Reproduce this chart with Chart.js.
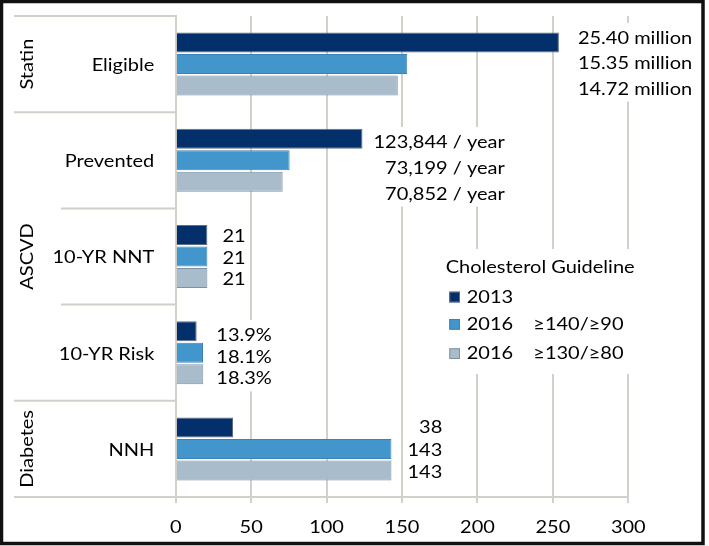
<!DOCTYPE html>
<html><head><meta charset="utf-8">
<script src="https://cdn.jsdelivr.net/npm/chart.js@4/dist/chart.umd.min.js"></script>
<style>html,body{margin:0;padding:0;background:#fff;}canvas{display:block;}</style>
</head><body>
<canvas id="c" width="709" height="546"></canvas>
<script>
// ---------- data ----------
const categories = ['Eligible', 'Prevented', '10-YR NNT', '10-YR Risk', 'NNH'];
const groupNames = ['Statin', 'ASCVD', 'Diabetes'];
const groupFrom = [0, 1, 4];
const groupTo = [0, 3, 4];
const seriesYears = ['2013', '2016', '2016'];
const seriesNotes = ['', '≥140/≥90', '≥130/≥80'];
const values2013 = [254.0, 123.8, 21, 13.9, 38];
const values2016a = [153.5, 75.5, 21, 18.1, 143];
const values2016b = [147.2, 70.9, 21, 18.3, 143];
const text2013 = ['25.40 million', '123,844 / year', '21', '13.9%', '38'];
const text2016a = ['15.35 million', '73,199 / year', '21', '18.1%', '143'];
const text2016b = ['14.72 million', '70,852 / year', '21', '18.3%', '143'];
const xTickValues = [0, 50, 100, 150, 200, 250, 300];
const legendTitle = 'Cholesterol Guideline';

// ---------- styles ----------
const FONT = 'Lato, "Open Sans", sans-serif';
const FS = 17.4;
const SX = 1.15;          // horizontal text stretch (Calibri-like width)
const TXT = '#000';
const GRID = '#d3d0c9';
const fills = ['#03306b', '#4396cc', '#a8bccb'];
const borders = ['#5f6f82', '#3b82b6', '#7f91a0'];
const labelGap = [19, 11, 15, 13, 16];
const labelPitch = [25.3, 25.8, 21.7, 21.7, 22.5];
const labelBase = [5.2, 13.5, 7, 10, 6.7];

const datasets = [values2013, values2016a, values2016b].map((v, d) => ({
  label: seriesYears[d] + (seriesNotes[d] ? ' ' + seriesNotes[d] : ''),
  data: v,
  backgroundColor: fills[d],
  borderColor: borders[d],
  borderWidth: 1,
  categoryPercentage: 0.67,
  barPercentage: 0.93
}));
const valueTexts = [text2013, text2016a, text2016b];

function txt(ctx, s, x, y, align, rot) {
  ctx.save();
  ctx.translate(x, y);
  if (rot) ctx.rotate(rot);
  ctx.scale(SX, 1);
  ctx.textAlign = align;
  ctx.textBaseline = 'alphabetic';
  ctx.fillText(s, 0, 0);
  ctx.restore();
}
function tw(ctx, s) { return ctx.measureText(s).width * SX; }

const decor = {
  id: 'decor',
  beforeDatasetsDraw(chart) {
    const ctx = chart.ctx, ca = chart.chartArea, ys = chart.scales.y;
    const n = categories.length;
    const b = [ca.top];
    for (let i = 0; i < n - 1; i++) b.push((ys.getPixelForValue(i) + ys.getPixelForValue(i + 1)) / 2);
    b.push(ca.bottom);
    const groupEdges = new Set();
    groupFrom.forEach(f => groupEdges.add(f));
    groupTo.forEach(t => groupEdges.add(t + 1));
    ctx.save();
    ctx.strokeStyle = GRID; ctx.lineWidth = 2;
    b.forEach((y, k) => {
      const x0 = groupEdges.has(k) ? 14 : 61;
      ctx.beginPath(); ctx.moveTo(x0, y); ctx.lineTo(ca.left, y); ctx.stroke();
    });
    ctx.fillStyle = TXT; ctx.font = FS + 'px ' + FONT;
    groupNames.forEach((g, j) => {
      const yc = (b[groupFrom[j]] + b[groupTo[j] + 1]) / 2;
      txt(ctx, g, 33, yc, 'center', -Math.PI / 2);
    });
    chart.data.labels.forEach((c, i) => {
      txt(ctx, c, 154.3, ys.getPixelForValue(i) + 6.8, 'right');
    });
    const xs = chart.scales.x;
    xs.ticks.forEach(t => {
      txt(ctx, String(t.value), xs.getPixelForValue(t.value), 533.3, 'center');
    });
    ctx.restore();
  },
  afterDatasetsDraw(chart) {
    const ctx = chart.ctx;
    ctx.save();
    ctx.font = FS + 'px ' + FONT;
    categories.forEach((c, i) => {
      const els = [0, 1, 2].map(d => chart.getDatasetMeta(d).data[i]);
      const maxEnd = Math.max(...els.map(e => e.x));
      const bw = Math.max(...valueTexts.map(t => tw(ctx, t[i])));
      const left = maxEnd + labelGap[i];
      const right = left + bw;
      const ys = [0, 1, 2].map(d => els[1].y + (d - 1) * labelPitch[i] + labelBase[i]);
      ctx.fillStyle = '#fff';
      ctx.fillRect(left - 3, ys[0] - 21, bw + 6, ys[2] - ys[0] + 28);
      ctx.fillStyle = TXT;
      ys.forEach((y, d) => txt(ctx, valueTexts[d][i], right, y, 'right'));
    });
    ctx.fillStyle = '#fff';
    ctx.fillRect(438, 249, 252, 125);
    ctx.fillStyle = TXT;
    txt(ctx, legendTitle, 445.7, 272.7, 'left');
    const rowBase = [302.7, 330, 359.3];
    chart.data.datasets.forEach((ds, d) => {
      const y = rowBase[d];
      ctx.fillStyle = ds.backgroundColor;
      ctx.fillRect(449.3, y - 11, 10.7, 10.7);
      ctx.strokeStyle = ds.borderColor; ctx.lineWidth = 1;
      ctx.strokeRect(449.8, y - 10.5, 9.7, 9.7);
      ctx.fillStyle = TXT;
      txt(ctx, seriesYears[d], 466.7, y, 'left');
      if (seriesNotes[d]) txt(ctx, seriesNotes[d], 533.3, y, 'left');
    });
    ctx.restore();
  },
  afterDraw(chart) {
    const ctx = chart.ctx;
    ctx.save();
    ctx.strokeStyle = '#111'; ctx.lineWidth = 3.5;
    ctx.strokeRect(1.5, 1.5, 701.5, 542);
    ctx.restore();
  }
};

new Chart(document.getElementById('c'), {
  type: 'bar',
  data: { labels: categories, datasets },
  plugins: [decor],
  options: {
    indexAxis: 'y',
    responsive: false,
    animation: false,
    devicePixelRatio: 1,
    layout: { padding: { top: 16, right: 80.7, bottom: 0, left: 0 } },
    plugins: { legend: { display: false }, tooltip: { enabled: false } },
    scales: {
      x: {
        min: 0, max: 300,
        afterBuildTicks(s) { s.ticks = xTickValues.map(v => ({ value: v })); },
        afterFit(s) { s.height = 49; },
        grid: { color: GRID, lineWidth: 2, tickLength: 6, drawTicks: true },
        border: { color: GRID, width: 2 },
        ticks: { display: false }
      },
      y: {
        afterFit(s) { s.width = 175.7; },
        grid: { display: false, drawTicks: false },
        border: { color: GRID, width: 2 },
        ticks: { display: false }
      }
    }
  }
});
</script>
</body></html>
